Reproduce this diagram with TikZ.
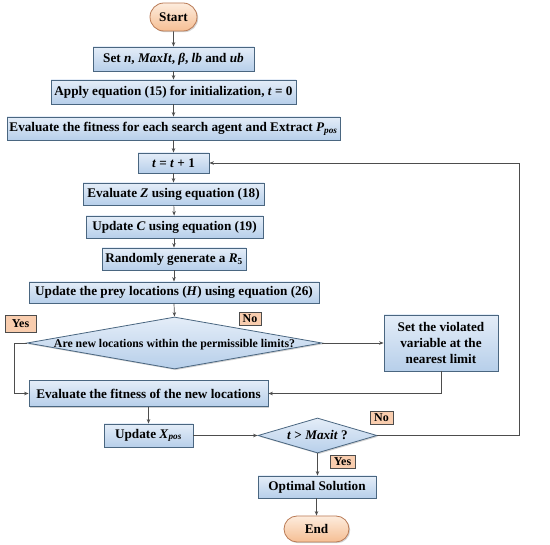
\documentclass[tikz,border=0pt]{standalone}
\usepackage{fontspec}
\setmainfont{Liberation Serif}
\usetikzlibrary{arrows.meta,shapes.geometric,shapes.misc,shadows}
\definecolor{boxedge}{HTML}{4A6680}
\definecolor{boxtop}{HTML}{E4EDF8}
\definecolor{boxbot}{HTML}{B7CFEA}
\definecolor{termtop}{HTML}{FDECDD}
\definecolor{termbot}{HTML}{F5BE93}
\definecolor{termedge}{HTML}{B97A55}
\definecolor{tagfill}{HTML}{F9CDAE}
\definecolor{linecol}{HTML}{4D4D4D}
\tikzset{
  base/.style={draw=boxedge, line width=0.8pt, top color=boxtop, bottom color=boxbot,
    inner sep=0pt, align=center, font=\bfseries\fontsize{13.2}{16}\selectfont,
    drop shadow={shadow xshift=1.2pt, shadow yshift=-1.2pt, fill=black!35}},
  procbox/.style={base, rectangle},
  decbox/.style={base, diamond},
  termbox/.style={draw=termedge, line width=0.8pt, top color=termtop, bottom color=termbot,
    rounded rectangle, inner sep=0pt, font=\bfseries\fontsize{13.2}{16}\selectfont,
    drop shadow={shadow xshift=1.2pt, shadow yshift=-1.2pt, fill=black!35}},
  tagbox/.style={draw=black!70, line width=0.6pt, fill=tagfill, inner sep=0pt,
    font=\bfseries\fontsize{12}{13}\selectfont},
  conn/.style={draw=linecol, line width=0.7pt, -{Stealth[length=4.5pt,width=3.5pt]}},
  plain/.style={draw=linecol, line width=0.7pt}
}
\begin{document}
\begin{tikzpicture}[x=1pt,y=-1pt]
\useasboundingbox (0,0) rectangle (550,545);
\node[termbox, minimum width=47pt, minimum height=28pt] (start) at (173.5,17) {Start};
\node[procbox, minimum width=161pt, minimum height=24pt] (set) at (173.5,59)
  {Set \textit{n}, \textit{MaxIt}, \textit{β}, \textit{lb} and \textit{ub}};
\node[procbox, minimum width=245pt, minimum height=24pt] (apply) at (173.5,92)
  {Apply equation (15) for initialization, \textit{t} = 0};
\node[procbox, minimum width=333pt, minimum height=23pt] (evalfit) at (173.5,128.5)
  {Evaluate the fitness for each search agent and Extract \textit{P}\textsubscript{\textit{pos}}};
\node[procbox, minimum width=71pt, minimum height=20pt] (tinc) at (173.5,163)
  {\textit{t} = \textit{t} + 1};
\node[procbox, minimum width=181pt, minimum height=22pt] (evz) at (173.5,194)
  {Evaluate \textit{Z} using equation (18)};
\node[procbox, minimum width=177pt, minimum height=22pt] (upc) at (174.5,227)
  {Update \textit{C} using equation (19)};
\node[procbox, minimum width=144pt, minimum height=22pt] (rand) at (174,259)
  {Randomly generate a \textit{R}\textsubscript{5}};
\node[procbox, minimum width=290pt, minimum height=21pt] (prey) at (174,292.5)
  {Update the prey locations (\textit{H}) using equation (26)};
\node[decbox, minimum width=295pt, minimum height=52pt] (dia1) at (174.5,343)
  {\smash{\raisebox{-0.7ex}{\makebox[0pt]{\fontsize{11.8}{13}\selectfont Are new locations within the permissible limits?}}}};
\node[procbox, minimum width=114pt, minimum height=56pt] (viol) at (441,343)
  {Set the violated\\variable at the\\nearest limit};
\node[procbox, minimum width=239pt, minimum height=26pt] (evnew) at (148.5,393.5)
  {Evaluate the fitness of the new locations};
\node[procbox, minimum width=89pt, minimum height=23pt] (xpos) at (148.5,435.5)
  {Update \textit{X}\textsubscript{\textit{pos}}};
\node[decbox, minimum width=119pt, minimum height=35pt] (dia2) at (317.5,435.5)
  {\smash{\raisebox{-0.7ex}{\makebox[0pt]{\textit{t} > \textit{Maxit} ?}}}};
\node[procbox, minimum width=118pt, minimum height=22pt] (opt) at (317,487)
  {Optimal Solution};
\node[termbox, minimum width=65pt, minimum height=26pt] (end) at (316.5,529) {End};
\node[tagbox, minimum width=31pt, minimum height=17pt] (yes1) at (20.5,323.5) {Yes};
\node[tagbox, minimum width=22pt, minimum height=13pt] (no1) at (250,318.5) {No};
\node[tagbox, minimum width=23pt, minimum height=13pt] (no2) at (381.5,417.5) {No};
\node[tagbox, minimum width=25pt, minimum height=13pt] (yes2) at (342.5,461.5) {Yes};
\coordinate (lft) at (14,343);
\coordinate (rgt) at (519,435.5);
\draw[conn] (start) -- (set);
\draw[conn] (set) -- (apply);
\draw[conn] (apply) -- (evalfit);
\draw[conn] (evalfit) -- (tinc);
\draw[conn] (tinc) -- (evz);
\draw[conn] (evz) -- (upc);
\draw[conn] (upc.south -| rand.north) -- (rand.north);
\draw[conn] (rand) -- (prey);
\draw[conn] (prey.south) -- (dia1.north);
\draw[conn] (dia1.east) -- (viol.west);
\draw[conn] (dia1.west) -- (lft) |- (evnew.west);
\draw[conn] (viol.south) |- (evnew.east);
\draw[conn] (evnew.south -| xpos.north) -- (xpos.north);
\draw[conn] (xpos.east) -- (dia2.west);
\draw[conn] (dia2.south) -- (opt.north -| dia2.south);
\draw[conn] (opt.south -| end.north) -- (end.north);
\draw[conn] (dia2.east) -- (rgt) |- (tinc.east);
\end{tikzpicture}
\end{document}
